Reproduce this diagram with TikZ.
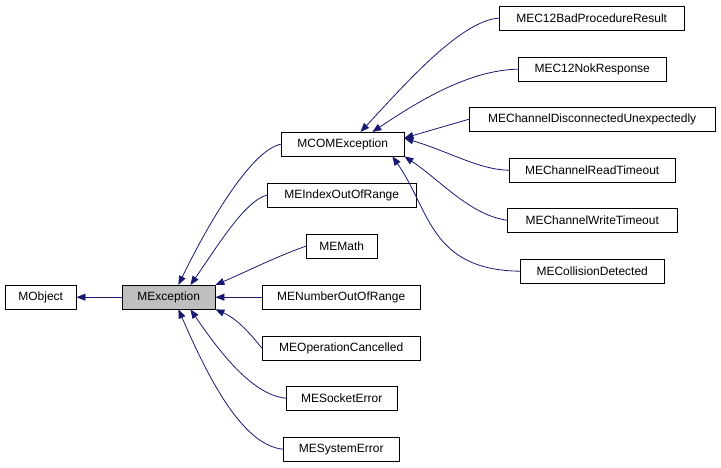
\documentclass[tikz,border=0pt]{standalone}
\usepackage{fontspec}
\setmainfont{Liberation Sans}
\usetikzlibrary{arrows.meta}
\begin{document}
\begin{tikzpicture}[x=1pt,y=-1pt,
 box/.style={draw=black,fill=white,minimum height=24pt,inner sep=0pt,font=\fontsize{12}{12}\selectfont,anchor=north west},
 arr/.style={draw={rgb,255:red,25;green,25;blue,112},line width=0.8pt,{Triangle[length=9pt,width=7pt]}-}]
\useasboundingbox (0,0) rectangle (721,468);
\newcommand{\bx}[6]{\node[box,minimum width=#4-#2 pt,#6] (#1) at (#2,#3) {#5};}
\bx{obj}{5}{285}{76}{MObject}{}
\bx{exc}{122}{285}{215}{MException}{fill={rgb,255:red,191;green,191;blue,191}}
\bx{com}{281}{132}{404}{MCOMException}{}
\bx{idx}{267}{183}{416}{MEIndexOutOfRange}{}
\bx{math}{306}{234}{377}{MEMath}{}
\bx{num}{262}{285}{420}{MENumberOutOfRange}{}
\bx{op}{262}{336}{420}{MEOperationCancelled}{}
\bx{sock}{286}{386}{397}{MESocketError}{}
\bx{sys}{283}{437}{399}{MESystemError}{}
\bx{bad}{499}{6}{684}{MEC12BadProcedureResult}{}
\bx{nok}{518}{57}{666}{MEC12NokResponse}{}
\bx{dis}{469}{107}{715}{MEChannelDisconnectedUnexpectedly}{}
\bx{rd}{509}{158}{675}{MEChannelReadTimeout}{}
\bx{wr}{507}{208}{677}{MEChannelWriteTimeout}{}
\bx{col}{520}{259}{664}{MECollisionDetected}{}
\draw[arr] (obj.east) -- (exc.west);
\draw[arr] ([xshift=-37pt]exc.north east) .. controls (205,230) and (250,150) .. (com.west);
\draw[arr] ([xshift=-25pt]exc.north east) .. controls (215,250) and (245,200) .. (idx.west);
\draw[arr] (exc.north east) .. controls (250,270) and (280,255) .. (math.west);
\draw[arr] (exc.east) -- (num.west);
\draw[arr] (exc.south east) .. controls (240,320) and (255,340) .. (op.west);
\draw[arr] ([xshift=-25pt]exc.south east) .. controls (215,345) and (250,395) .. (sock.west);
\draw[arr] ([xshift=-37pt]exc.south east) .. controls (205,370) and (240,445) .. (sys.west);
\draw[arr] ([xshift=-44pt]com.north east) .. controls (400,90) and (460,20) .. (bad.west);
\draw[arr] ([xshift=-32pt]com.north east) .. controls (420,100) and (470,70) .. (nok.west);
\draw[arr] ([yshift=-6pt]com.north east) -- (dis.west);
\draw[arr] ([yshift=6pt]com.east) .. controls (450,152) and (480,170) .. (rd.west);
\draw[arr] (com.south east) .. controls (440,180) and (470,215) .. (wr.west);
\draw[arr] ([xshift=-12pt]com.south east) .. controls (430,210) and (430,270) .. (col.west);
\end{tikzpicture}
\end{document}
